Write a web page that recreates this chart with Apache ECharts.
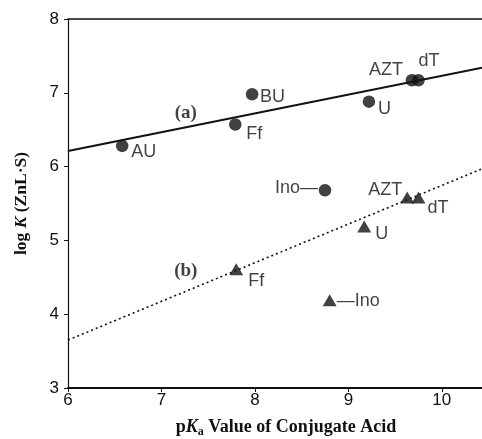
<!DOCTYPE html>
<html>
<head>
<meta charset="utf-8">
<script src="https://cdn.jsdelivr.net/npm/echarts@6/dist/echarts.min.js"></script>
<style>
html,body{margin:0;padding:0;background:#fff;}
#chart{width:482px;height:439px;}
</style>
</head>
<body>
<div id="chart"></div>
<script>
// ---- data ----
const xTickValues = [6, 7, 8, 9, 10];
const yTickValues = [3, 4, 5, 6, 7, 8];

// (a) circles
const pKaCircles  = [6.58, 7.79, 7.97, 9.22, 9.68, 9.75, 8.75];
const logKCircles = [6.28, 6.57, 6.98, 6.88, 7.17, 7.17, 5.68];
const circleNames = ['AU', 'Ff', 'BU', 'U', 'AZT', 'dT', 'Ino\u2014'];

// (b) triangles
const pKaTriangles  = [7.80, 9.17, 9.63, 9.75, 8.80];
const logKTriangles = [4.61, 5.19, 5.58, 5.58, 4.19];
const triangleNames = ['Ff', 'U', 'AZT', 'dT', '\u2014Ino'];

// fitted lines
const fitX = [6, 10.43];
const fitA = [6.21, 7.34];
const fitB = [3.65, 5.97];

// series annotations
const annX = [7.26, 7.26];
const annY = [6.73, 4.58];
const annText = ['(a)', '(b)'];

// ---- label placement (style only) ----
const circleLabelLayout = [['left',9,6.5],['left',11,9],['left',8,3],['left',9,7.5],['right',-9,-10],['left',0,-19],['right',-7,-2]];
const triLabelLayout = [['left',12,11.5],['left',11,8],['right',-5,-8],['left',9,10],['left',7,1]];

const INK = '#111';
const SANS = 'Liberation Sans, Arial, sans-serif';
const SERIF = 'Liberation Serif, Times New Roman, serif';

function pts(xs, ys, names, layout) {
  return xs.map((x, i) => ({
    value: [x, ys[i]],
    name: names[i],
    label: { align: layout[i][0], offset: [layout[i][1], layout[i][2]] }
  }));
}

const chart = echarts.init(document.getElementById('chart'), null, {renderer: 'canvas'});
const labelBase = {
  show: true, position: 'inside', verticalAlign: 'middle',
  formatter: p => p.name, color: INK, fontFamily: SANS, fontSize: 18
};

chart.setOption({
  animation: false,
  backgroundColor: '#fff',
  grid: { left: 68, right: 0, top: 19, bottom: 51, containLabel: false, outerBoundsMode: 'none' },
  xAxis: [{
    type: 'value', min: 6, max: 10.43, interval: 1,
    axisLine: { show: true, lineStyle: { color: INK, width: 2 } },
    axisTick: { show: true, length: 4, lineStyle: { color: INK } },
    axisLabel: { color: INK, fontFamily: SANS, fontSize: 17, margin: 4, showMaxLabel: false,
      formatter: v => xTickValues.includes(v) ? String(v) : '' },
    splitLine: { show: false },
    name: '{n|p}{i|K}{s|a}{n| Value of Conjugate Acid}',
    nameLocation: 'middle', nameGap: 28,
    nameTextStyle: {
      padding: [0, 0, 0, 22],
      rich: {
        n: { fontFamily: SERIF, fontWeight: 'bold', fontSize: 18, color: INK, lineHeight: 22, verticalAlign: 'middle' },
        i: { fontFamily: SERIF, fontWeight: 'bold', fontStyle: 'italic', fontSize: 18, color: INK, lineHeight: 22, verticalAlign: 'middle' },
        s: { fontFamily: SERIF, fontWeight: 'bold', fontSize: 12, color: INK, lineHeight: 12, verticalAlign: 'bottom' }
      }
    }
  }, {
    type: 'value', min: 6, max: 10.43, position: 'top',
    axisLine: { show: true, lineStyle: { color: INK, width: 1.5 } },
    axisTick: { show: false }, axisLabel: { show: false }, splitLine: { show: false }
  }],
  yAxis: {
    type: 'value', min: 3, max: 8, interval: 1,
    axisLine: { show: true, lineStyle: { color: INK, width: 1.2 } },
    axisTick: { show: true, length: 4, lineStyle: { color: INK } },
    axisLabel: { color: INK, fontFamily: SANS, fontSize: 17, margin: 9,
      formatter: v => yTickValues.includes(v) ? String(v) : '' },
    splitLine: { show: false },
    name: '{n|log }{i|K}{n| (ZnL\u00b7S)}',
    nameLocation: 'middle', nameGap: 38,
    nameTextStyle: {
      rich: {
        n: { fontFamily: SERIF, fontWeight: 'bold', fontSize: 17.5, color: INK },
        i: { fontFamily: SERIF, fontWeight: 'bold', fontStyle: 'italic', fontSize: 17.5, color: INK }
      }
    }
  },
  series: [
    {
      type: 'line', data: fitX.map((x, i) => [x, fitA[i]]), symbol: 'none',
      lineStyle: { color: INK, width: 2 }, clip: true, z: 2
    },
    {
      type: 'line', data: fitX.map((x, i) => [x, fitB[i]]), symbol: 'none',
      lineStyle: { color: INK, width: 1.6, type: [2, 3] }, clip: true, z: 2
    },
    {
      type: 'scatter', symbol: 'circle', symbolSize: 12.5,
      itemStyle: { color: INK }, label: labelBase,
      data: pts(pKaCircles, logKCircles, circleNames, circleLabelLayout), z: 3
    },
    {
      type: 'scatter', symbol: 'triangle', symbolSize: [14, 12],
      itemStyle: { color: INK }, label: labelBase,
      data: pts(pKaTriangles, logKTriangles, triangleNames, triLabelLayout), z: 3
    },
    {
      type: 'scatter', symbolSize: 1, itemStyle: { color: 'rgba(0,0,0,0)' },
      label: { show: true, position: 'inside', formatter: p => p.name, color: INK,
        fontFamily: SERIF, fontWeight: 'bold', fontSize: 19 },
      data: annX.map((x, i) => ({ value: [x, annY[i]], name: annText[i] })), z: 3
    }
  ]
});
</script>
</body>
</html>
